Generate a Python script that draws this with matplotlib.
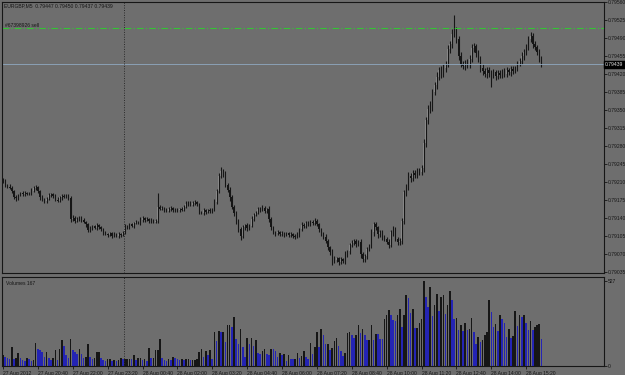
import numpy as np
import matplotlib
matplotlib.use("Agg")
import matplotlib.pyplot as plt

# EURGBP M5, prices stored as 1e-5 offsets above 0.79000
base = 0.79
first_open = 214
closes = [
    212, 205, 201, 199, 192, 180, 178, 184, 188, 186, 189, 187, 188, 193, 198, 201,
    192, 180, 176, 173, 177, 184, 186, 183, 176, 174, 180, 183, 181, 184, 179, 138,
    140, 134, 138, 141, 136, 133, 128, 116, 121, 124, 120, 126, 122, 118, 111, 109,
    107, 110, 106, 108, 105, 109, 107, 111, 125, 122, 128, 124, 130, 133, 131, 137,
    140, 136, 138, 134, 137, 133, 135, 162, 158, 160, 156, 154, 157, 160, 155, 157,
    155, 158, 156, 162, 168, 171, 166, 170, 172, 167, 152, 150, 155, 151, 156, 153,
    156, 172, 192, 222, 232, 226, 204, 195, 180, 162, 150, 135, 118, 106, 122, 126,
    120, 125, 138, 146, 150, 158, 156, 160, 154, 157, 138, 122, 112, 110, 113, 109,
    111, 108, 110, 107, 109, 106, 104, 108, 118, 127, 124, 131, 128, 133, 130, 135,
    128, 118, 110, 104, 96, 84, 74, 63, 58, 62, 55, 60, 57, 70, 75, 88,
    92, 96, 90, 94, 70, 60, 66, 80, 86, 112, 128, 122, 108, 112, 104, 100,
    94, 88, 112, 118, 100, 93, 96, 135, 190, 200, 222, 218, 228, 224, 232, 230,
    238, 285, 330, 352, 358, 385, 398, 415, 428, 420, 432, 440, 468, 478, 498, 505,
    488, 455, 440, 436, 442, 438, 450, 470, 474, 460, 450, 432, 426, 420, 428, 422,
    418, 424, 416, 422, 419, 425, 420, 428, 424, 430, 426, 432, 440, 446, 455, 462,
    472, 488, 494, 478, 472, 462, 450, 439,
]
up_wick = [
    4, 3, 2, 5, 3, 2, 4, 3, 2, 4, 3, 2, 3, 5, 4, 3,
    2, 3, 4, 2, 3, 4, 3, 2, 3, 4, 2, 3, 4, 3, 2, 3,
    5, 3, 4, 2, 3, 4, 2, 3, 4, 2, 3, 5, 2, 3, 2, 3,
    2, 3, 2, 4, 2, 3, 2, 4, 3, 2, 3, 2, 3, 4, 2, 5,
    3, 2, 4, 2, 3, 2, 3, 27, 3, 4, 2, 3, 4, 3, 2, 3,
    3, 2, 4, 3, 5, 3, 2, 4, 3, 2, 3, 2, 4, 3, 2, 3,
    3, 5, 4, 6, 7, 3, 5, 4, 6, 5, 4, 3, 4, 5, 4, 3,
    4, 3, 5, 4, 3, 4, 3, 5, 4, 3, 6, 4, 3, 2, 3, 2,
    3, 2, 3, 2, 3, 2, 3, 4, 3, 5, 3, 4, 3, 4, 3, 5,
    4, 3, 2, 3, 4, 3, 2, 5, 4, 3, 2, 4, 3, 5, 3, 4,
    5, 4, 3, 4, 6, 3, 5, 4, 3, 6, 5, 4, 3, 5, 4, 3,
    4, 5, 4, 6, 5, 4, 5, 6, 5, 6, 8, 5, 6, 5, 6, 5,
    6, 8, 6, 7, 9, 6, 7, 8, 6, 7, 8, 6, 8, 7, 9, 30,
    6, 5, 7, 6, 5, 7, 6, 8, 6, 5, 6, 5, 7, 5, 6, 5,
    6, 5, 4, 6, 5, 4, 6, 5, 4, 5, 6, 4, 5, 6, 7, 6,
    6, 5, 8, 5, 6, 5, 6, 5,
]
lo_wick = [
    3, 4, 3, 2, 4, 3, 5, 3, 2, 3, 4, 3, 2, 3, 3, 4,
    3, 4, 2, 3, 4, 2, 3, 4, 3, 2, 3, 4, 2, 3, 4, 5,
    3, 4, 2, 3, 4, 3, 5, 4, 3, 4, 2, 3, 4, 3, 4, 2,
    3, 2, 4, 3, 2, 3, 4, 2, 3, 4, 3, 2, 3, 2, 3, 4,
    4, 3, 2, 4, 3, 2, 3, 4, 3, 2, 4, 3, 2, 3, 4, 3,
    3, 4, 3, 2, 3, 4, 3, 2, 4, 3, 5, 3, 4, 3, 2, 3,
    4, 3, 5, 4, 5, 6, 4, 5, 6, 4, 6, 7, 5, 8, 4, 5,
    5, 4, 3, 4, 3, 2, 4, 3, 5, 4, 6, 5, 3, 4, 3, 4,
    3, 4, 3, 4, 3, 5, 4, 3, 4, 3, 4, 3, 4, 3, 4, 3,
    4, 5, 4, 5, 4, 6, 5, 14, 5, 4, 6, 5, 4, 6, 5, 4,
    5, 4, 6, 5, 7, 6, 5, 6, 4, 5, 6, 5, 7, 5, 6, 5,
    5, 6, 5, 6, 5, 6, 5, 7, 6, 8, 6, 7, 6, 7, 6, 7,
    7, 8, 6, 8, 7, 9, 6, 8, 7, 8, 6, 9, 7, 8, 7, 6,
    7, 8, 6, 7, 8, 6, 7, 6, 8, 7, 6, 8, 7, 6, 7, 8,
    23, 6, 7, 5, 6, 7, 5, 6, 5, 7, 6, 5, 6, 5, 6, 7,
    6, 5, 6, 7, 5, 6, 7, 5,
]
volumes = [
    63, 55, 50, 40, 113, 40, 50, 75, 45, 35, 30, 50, 40, 30, 35, 138,
    100, 96, 82, 55, 84, 48, 36, 48, 94, 36, 105, 157, 119, 63, 48, 167,
    98, 84, 73, 105, 69, 48, 52, 136, 56, 40, 48, 84, 84, 48, 36, 30,
    40, 42, 30, 36, 27, 36, 48, 42, 42, 42, 42, 40, 63, 36, 48, 48,
    36, 40, 30, 111, 48, 48, 94, 94, 163, 48, 36, 30, 40, 36, 56, 48,
    40, 36, 42, 36, 40, 42, 36, 36, 36, 40,
    84, 100, 52, 88, 67, 94, 42, 209, 150, 213, 209, 209, 146, 255, 255, 240,
    303, 167, 136, 230, 115, 56, 173, 136, 173, 119, 157, 79, 73, 88, 100, 69,
    63, 105, 100, 88, 56, 79, 63, 73, 31, 67, 42, 38, 38, 79, 46, 59,
    88, 52, 38, 142, 69, 115, 209, 115, 230, 192, 136, 136, 94, 109, 150, 171,
    119, 88, 59, 79, 203, 209, 192, 173, 188, 251, 205, 230, 192, 157, 157, 255,
    157, 199, 194, 167, 163, 293, 318, 345, 314, 282, 276, 314, 355, 240, 318, 439,
    424, 328, 355,
    232, 232, 263, 288, 527, 426, 364, 489, 307, 376, 445, 339, 426, 439, 320, 376,
    464, 407, 288, 295, 219, 251, 213, 263, 219, 226, 295, 207, 132, 176, 144, 157,
    188, 207, 407, 332, 238, 257, 213, 313, 288, 263, 176, 226, 170, 182, 339, 245,
    313, 301, 313, 263, 219, 276, 219, 238, 251, 257, 167,
]
time_labels = ["27 Aug 2012", "27 Aug 20:40", "27 Aug 22:00", "27 Aug 23:20",
               "28 Aug 00:40", "28 Aug 02:00", "28 Aug 03:20", "28 Aug 04:40",
               "28 Aug 06:00", "28 Aug 07:20", "28 Aug 08:40", "28 Aug 10:00",
               "28 Aug 11:20", "28 Aug 12:40", "28 Aug 14:00", "28 Aug 15:20"]
price_ticks = [0.79035, 0.79070, 0.79105, 0.79140, 0.79175, 0.79210, 0.79245, 0.79280,
               0.79315, 0.79350, 0.79385, 0.79420, 0.79455, 0.79490, 0.79525, 0.79560]
bid = 0.79439
order_price = 0.79509
order_label = "#67398926 sell"
title = "EURGBP,M5  0.79447 0.79450 0.79437 0.79439"

bg = "#6e6e6e"
ink = "#161616"
fs = 3.6
plt.rcParams["font.family"] = ["Liberation Sans", "DejaVu Sans"]

c = np.array(closes) * 1e-5 + base
o = np.concatenate([[first_open * 1e-5 + base], c[:-1]])
hi = np.maximum(o, c) + np.array(up_wick) * 1e-5
lo = np.minimum(o, c) - np.array(lo_wick) * 1e-5
x = np.arange(len(c))
vol = np.array(volumes)

fig = plt.figure(figsize=(6.25, 3.75), dpi=100, facecolor=bg)
ax = fig.add_axes([2 / 625, 1 - 273 / 375, 602 / 625, 271 / 375], facecolor=bg)
axv = fig.add_axes([2 / 625, 1 - 366 / 375, 602 / 625, 89 / 375], facecolor=bg)

# candles
bull = c >= o
ax.bar(x[bull], (c - o)[bull], bottom=o[bull], width=0.6, color="#8e8e8e", linewidth=0)
ax.bar(x[~bull], (o - c)[~bull], bottom=c[~bull], width=0.6, color=ink, linewidth=0)
ax.vlines(x, lo, hi, color=ink, linewidth=0.8)

ax.axhline(order_price, color="#35c435", linewidth=0.8, dashes=(6, 2, 1, 2))
ax.axhline(bid, color="#8fa8c0", linewidth=0.6)
ax.text(0.005, 0.913, order_label, transform=ax.transAxes, fontsize=fs, color=ink, va="center")
ax.text(0.004, 0.985, title, transform=ax.transAxes, fontsize=fs, color=ink, va="center")

ax.set_xlim(-0.46, 275.7)
ax.set_ylim(0.790331, 0.79560)
ax.yaxis.tick_right()
ax.set_yticks(price_ticks)
ax.set_yticklabels([f"{p:.5f}" for p in price_ticks])
ax.tick_params(axis="y", length=2, width=0.6, colors=ink, labelsize=fs, pad=1)
ax.set_xticks([])
ax.text(1.002, bid, f"{bid:.5f}", transform=ax.get_yaxis_transform(), fontsize=fs,
        color="#e0e0e0", va="center", ha="left",
        bbox=dict(boxstyle="square,pad=0.2", fc="black", ec="black"))

# volumes: black when rising, blue when falling
vcol = [ink if i == 0 or vol[i] >= vol[i - 1] else "#2424b4" for i in range(len(vol))]
axv.bar(np.arange(len(vol)), vol, width=0.72, color=vcol, linewidth=0)
axv.set_xlim(-0.46, 275.7)
axv.set_ylim(-3, 552)
axv.yaxis.tick_right()
axv.set_yticks([0, 527])
axv.tick_params(axis="y", length=2, width=0.6, colors=ink, labelsize=fs, pad=1)
axv.set_xticks(np.arange(len(time_labels)) * 16)
axv.set_xticklabels(time_labels, ha="left")
axv.tick_params(axis="x", length=2.5, width=0.6, colors=ink, labelsize=fs, pad=1)
axv.text(0.006, 0.93, f"Volumes {vol[-1]}", transform=axv.transAxes, fontsize=fs,
         color=ink, va="center")

for a in (ax, axv):
    a.axvline(55.5, color="#2a2a2a", linewidth=0.7, linestyle=(0, (1, 1.5)))
    for s in a.spines.values():
        s.set_color(ink)
        s.set_linewidth(0.8)

fig.savefig("out.png", dpi=100, facecolor=bg)
